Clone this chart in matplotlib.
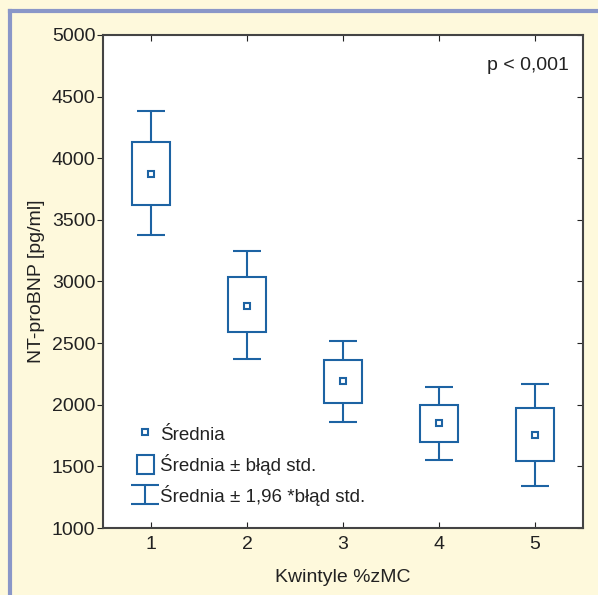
import matplotlib
matplotlib.use('Agg')
import matplotlib.pyplot as plt
from matplotlib.lines import Line2D

# quintiles of %zMC
quintiles = [1, 2, 3, 4, 5]
means = [3875, 2801, 2193, 1852, 1755]
se_high = [4134, 3037, 2363, 1998, 1974]
se_low = [3621, 2590, 2014, 1698, 1544]
ci_high = [4383, 3247, 2517, 2144, 2168]
ci_low = [3377, 2371, 1860, 1552, 1341]

blue = '#1d63a3'
bg = '#fef9dc'
txt = '#222222'

plt.rcParams['font.family'] = ['Liberation Sans', 'DejaVu Sans']

fig = plt.figure(figsize=(5.98, 5.95), dpi=100, facecolor=bg)
ax = fig.add_axes([0.1722, 0.1126, 0.8027, 0.8286])

# whiskers (mean +- 1.96*SE)
err_lo = [m - l for m, l in zip(means, ci_low)]
err_hi = [h - m for m, h in zip(means, ci_high)]
ax.errorbar(quintiles, means, yerr=[err_lo, err_hi], fmt='none', ecolor=blue,
            elinewidth=1.5, capsize=10, capthick=1.5, zorder=2,
            label='Średnia ± 1,96 *błąd std.')

# boxes (mean +- SE)
heights = [h - l for h, l in zip(se_high, se_low)]
ax.bar(quintiles, heights, bottom=se_low, width=0.39, facecolor='white',
       edgecolor=blue, linewidth=1.5, zorder=3, label='Średnia ± błąd std.')

# means
ax.plot(quintiles, means, linestyle='none', marker='s', markersize=5,
        markerfacecolor='white', markeredgecolor=blue, markeredgewidth=1.5,
        zorder=4, label='Średnia')

ax.set_xlim(0.5, 5.5)
ax.set_ylim(1000, 5000)
ax.set_xticks(quintiles)
ax.set_yticks(range(1000, 5001, 500))

ax.tick_params(axis='both', labelsize=14, colors=txt)
ax.tick_params(axis='y', left=True, right=True, direction='out', length=4, pad=1.5)
ax.tick_params(axis='x', bottom=True, top=True, direction='in', length=4, pad=6)
for t in ax.yaxis.get_major_ticks():
    t.tick2line.set_marker(0)  # right ticks point inward
for sp in ax.spines.values():
    sp.set_color('#444444')
    sp.set_linewidth(1.5)

ax.set_xlabel('Kwintyle %zMC', fontsize=14, color=txt, labelpad=11)
ax.set_ylabel('NT-proBNP [pg/ml]', fontsize=14, color=txt, labelpad=5)

ax.text(0.97, 0.955, 'p < 0,001', transform=ax.transAxes, ha='right', va='top',
        fontsize=14, color=txt)

handles, labels = ax.get_legend_handles_labels()
order = [labels.index('Średnia'), labels.index('Średnia ± błąd std.'),
         labels.index('Średnia ± 1,96 *błąd std.')]
leg = ax.legend([handles[i] for i in order], [labels[i] for i in order],
                loc='lower left', bbox_to_anchor=(0.035, 0.01), frameon=False,
                fontsize=13.5, handlelength=0.9, handleheight=1.15,
                handletextpad=0.35, labelspacing=0.55, labelcolor=txt)

# frame lines on the page
fig.add_artist(Line2D([0.016, 0.016], [0.0, 0.982], color='#8a97c8', linewidth=3))
fig.add_artist(Line2D([0.016, 1.0], [0.982, 0.982], color='#8a97c8', linewidth=3))

fig.savefig('out.png', dpi=100, facecolor=bg)
